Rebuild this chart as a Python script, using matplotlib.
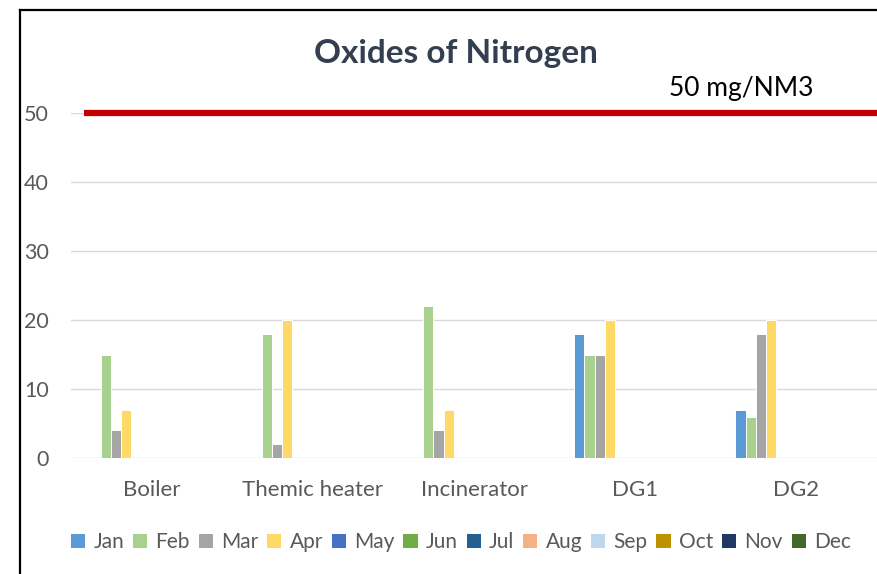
import matplotlib
matplotlib.use("Agg")
import matplotlib.pyplot as plt
from matplotlib.lines import Line2D
from matplotlib.patches import Patch
import numpy as np

plt.rcParams["font.family"] = ["Lato", "DejaVu Sans"]

categories = ["Boiler", "Themic heater", "Incinerator", "DG1", "DG2"]
months = ["Jan", "Feb", "Mar", "Apr", "May", "Jun",
          "Jul", "Aug", "Sep", "Oct", "Nov", "Dec"]
month_colors = ["#5B9BD5", "#A9D18E", "#A5A5A5", "#FFD966", "#4472C4", "#70AD47",
                "#255E91", "#F4B183", "#BDD7EE", "#BF9000", "#203864", "#43682B"]

# readings per month, one value per category (nan = no reading)
nan = np.nan
jan = [nan, nan, nan, 18, 7]
feb = [15, 18, 22, 15, 6]
mar = [4, 2, 4, 15, 18]
apr = [7, 20, 7, 20, 20]
empty = [nan] * 5
series = [jan, feb, mar, apr] + [empty] * 8

limit_value = 50
limit_label = "50 mg/NM3"
title = "Oxides of Nitrogen"

W, H = 877, 574
fig = plt.figure(figsize=(W / 100, H / 100), dpi=100)
ax = fig.add_axes([71 / W, 1 - 458 / H, 806 / W, 345 / H])

x = np.arange(len(categories))
step = 0.063
for i, (name, vals, col) in enumerate(zip(months, series, month_colors)):
    ax.bar(x + (i - 5.5) * step, vals, width=step, color=col,
           edgecolor="white", linewidth=0.7, zorder=3)

ax.axhline(limit_value, xmin=13 / 806, xmax=1, color="#C00000", lw=4.5,
           solid_capstyle="butt", zorder=4, clip_on=False)
ax.text(0.831, 53.6, limit_label, transform=ax.get_yaxis_transform(),
        ha="center", va="center", fontsize=19, color="black")

ax.set_xlim(-0.5, len(categories) - 0.5)
ax.set_ylim(0, 50)
ax.set_yticks(range(0, 51, 10))
ax.set_xticks(x)
ax.set_xticklabels(categories)
ax.yaxis.grid(True, color="#D9D9D9", lw=1.0, zorder=0)
ax.set_axisbelow(True)
for s in ax.spines.values():
    s.set_visible(False)
ax.tick_params(axis="y", length=0, pad=16, labelsize=15.5, labelcolor="#595959")
ax.tick_params(axis="x", length=0, pad=16, labelsize=16, labelcolor="#595959")

fig.text(456 / W, 1 - 54 / H, title, ha="center", va="center",
         fontsize=24, fontweight="bold", color="#333F50")

handles = [Patch(facecolor=c, edgecolor="none") for c in month_colors]
fig.legend(handles, months, loc="center", bbox_to_anchor=(461 / W, 1 - 542 / H),
           ncol=12, frameon=False, fontsize=15, labelcolor="#595959",
           handlelength=0.68, handleheight=0.68, handletextpad=0.4,
           columnspacing=0.42, borderpad=0, borderaxespad=0)

# chart border (left and top edges visible in crop)
fig.add_artist(Line2D([20 / W, 20 / W], [0, 1 - 10 / H], color="black", lw=1.6))
fig.add_artist(Line2D([20 / W, 1], [1 - 10 / H, 1 - 10 / H], color="black", lw=1.6))

fig.savefig("out.png", dpi=100)
